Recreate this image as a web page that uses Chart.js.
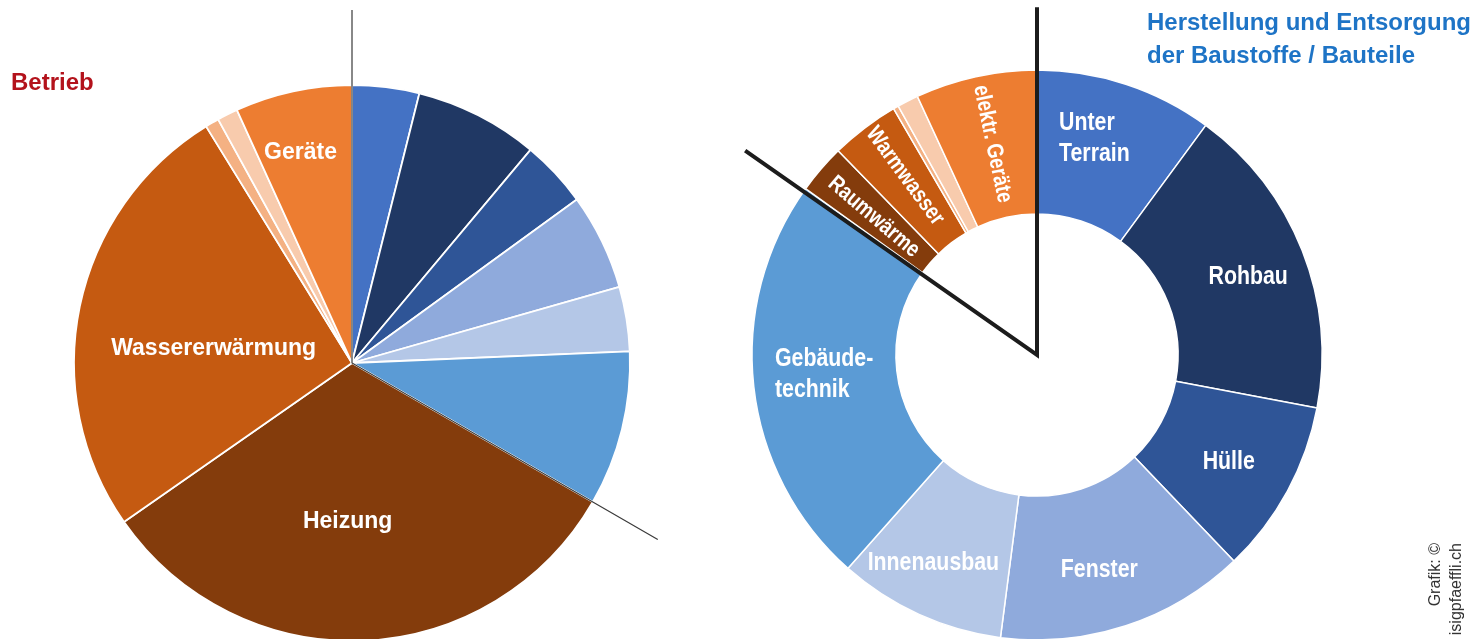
<!DOCTYPE html>
<html lang="de">
<head>
<meta charset="utf-8">
<title>Betrieb / Herstellung und Entsorgung</title>
<script src="https://cdn.jsdelivr.net/npm/chart.js@4.4.1/dist/chart.umd.min.js"></script>
<style>
  html, body { margin: 0; padding: 0; background: #fff; overflow: hidden; width: 1479px; height: 639px; }
  body { position: relative; font-family: "Liberation Sans", Arial, sans-serif; }
  canvas { position: absolute; top: 0; }
  #betriebChart { left: 0; }
  #bauChart { left: 740px; }
  .title { position: absolute; font-weight: bold; font-size: 24px; line-height: 33px; white-space: nowrap; }
  #titleBetrieb { left: 11px; top: 65px; color: #b3121b; }
  #titleBau { left: 1147px; top: 5px; color: #1e74c6; }
  #credit {
    position: absolute; left: 1424px; top: 643px; width: 100px;
    font-size: 16px; line-height: 21px; color: #333; text-align: right; white-space: nowrap;
    transform-origin: 0 0; transform: rotate(-90deg);
  }
</style>
</head>
<body>
<canvas id="betriebChart" width="740" height="700"></canvas>
<canvas id="bauChart" width="739" height="700"></canvas>
<div class="title" id="titleBetrieb">Betrieb</div>
<div class="title" id="titleBau">Herstellung und Entsorgung<br>der Baustoffe / Bauteile</div>
<div id="credit">Grafik: ©<br>isigpfaeffli.ch</div>

<script>
// Betrieb: Anteile in % (Erstellung + Betrieb)
const betriebLabels = ['Unter Terrain', 'Rohbau', 'Hülle', 'Fenster', 'Innenausbau', 'Gebäudetechnik',
                       'Heizung', 'Wassererwärmung', 'Lüftung', 'Beleuchtung', 'Geräte'];
const betriebValues = [3.9, 7.2, 3.9, 5.6, 3.75, 9.0, 32.0, 25.9, 0.8, 1.2, 6.8];

// Herstellung und Entsorgung: Anteile in %
const bauLabels = [['Unter', 'Terrain'], 'Rohbau', 'Hülle', 'Fenster', 'Innenausbau', ['Gebäude-', 'technik'],
                   'Raumwärme', 'Warmwasser', 'Lüftung', 'Beleuchtung', 'elektr. Geräte'];
const bauValues = [10.1, 17.9, 9.9, 14.2, 9.5, 23.4, 2.8, 3.9, 0.3, 1.2, 6.9];

const sliceColors = ['#4472c4', '#203864', '#2f5597', '#8faadc', '#b4c7e7', '#5b9bd5',
                     '#843c0c', '#c55a11', '#f4b183', '#f8cbad', '#ed7d31'];

// Beschriftung: r = Anteil vom Aussenradius, shift = Winkelversatz in Grad
const betriebTextPos = {
  6: { r: 0.57, shift: 4 },
  7: { r: 0.5, shift: -6 },
  10: { r: 0.78, shift: -1.5 }
};
const bauTextPos = {
  0: { r: 0.785, shift: -3.3, align: 'left' },
  1: { r: 0.79, shift: 1.2 },
  2: { r: 0.77, shift: 0.6 },
  3: { r: 0.785, shift: 2 },
  4: { r: 0.816, shift: 2 },
  5: { r: 0.75, shift: 1.1, align: 'left' },
  6: { r: 0.75, shift: -0.5, radial: true },
  7: { r: 0.78, shift: 0.8, radial: true },
  10: { r: 0.757, shift: 0.5, radial: true }
};

const FONT = '"Liberation Sans", Arial, sans-serif';
const DEG = Math.PI / 180;

function drawSliceText(chart, texts, pos, style) {
  const ctx = chart.ctx;
  const arcs = chart.getDatasetMeta(0).data;
  ctx.save();
  ctx.fillStyle = '#ffffff';
  ctx.textBaseline = 'middle';
  Object.keys(pos).forEach(k => {
    const i = +k, p = pos[k], arc = arcs[i];
    const mid = (arc.startAngle + arc.endAngle) / 2 + p.shift * DEG;
    const x = arc.x + Math.cos(mid) * arc.outerRadius * p.r;
    const y = arc.y + Math.sin(mid) * arc.outerRadius * p.r;
    const lines = [].concat(texts[i]);
    ctx.save();
    ctx.translate(x, y);
    if (p.radial) {
      ctx.rotate(mid + Math.PI);
      ctx.font = style.radialFont;
    } else {
      ctx.font = style.font;
    }
    ctx.scale(style.squeeze, 1);
    const maxW = Math.max(...lines.map(l => ctx.measureText(l).width));
    lines.forEach((l, j) => {
      const ly = (j - (lines.length - 1) / 2) * style.lineHeight;
      if (p.align === 'left') {
        ctx.textAlign = 'left';
        ctx.fillText(l, -maxW / 2, ly);
      } else {
        ctx.textAlign = 'center';
        ctx.fillText(l, 0, ly);
      }
    });
    ctx.restore();
  });
  ctx.restore();
}

// Trennlinien zwischen Erstellung und Betrieb, vom Zentrum nach aussen
function drawGuides(chart, guides, width) {
  const arcs = chart.getDatasetMeta(0).data;
  const c = arcs[0];
  const pts = guides.map(g => {
    const a = (g.end ? arcs[g.index].endAngle : arcs[g.index].startAngle) + (g.shift || 0) * DEG;
    const len = c.outerRadius * g.len;
    return [c.x + Math.cos(a) * len, c.y + Math.sin(a) * len];
  });
  const ctx = chart.ctx;
  ctx.save();
  ctx.strokeStyle = width > 2 ? '#1c1c1c' : '#3a3a3a';
  ctx.lineWidth = width;
  ctx.lineJoin = 'miter';
  ctx.beginPath();
  ctx.moveTo(pts[0][0], pts[0][1]);
  ctx.lineTo(c.x, c.y);
  ctx.lineTo(pts[1][0], pts[1][1]);
  ctx.stroke();
  ctx.restore();
}

function baseOptions(padding) {
  return {
    responsive: false,
    animation: false,
    devicePixelRatio: 1,
    events: [],
    layout: { padding: padding },
    plugins: { legend: { display: false }, tooltip: { enabled: false } }
  };
}

new Chart(document.getElementById('betriebChart'), {
  type: 'pie',
  data: {
    labels: betriebLabels,
    datasets: [{
      data: betriebValues,
      backgroundColor: sliceColors,
      borderColor: '#ffffff',
      borderWidth: 1.8
    }]
  },
  options: baseOptions({ left: 73.1, top: 84.1, right: 109.1, bottom: 58.1 }),
  plugins: [{
    id: 'betriebDeko',
    afterDatasetsDraw(chart) {
      drawGuides(chart, [
        { index: 0, len: 1.27 },
        { index: 5, end: true, len: 1.27 }
      ], 1.2);
      drawSliceText(chart, betriebLabels, betriebTextPos, {
        font: 'bold 23px ' + FONT, radialFont: 'bold 23px ' + FONT, squeeze: 1, lineHeight: 28
      });
    }
  }]
});

new Chart(document.getElementById('bauChart'), {
  type: 'doughnut',
  data: {
    labels: bauLabels,
    datasets: [{
      data: bauValues,
      backgroundColor: sliceColors,
      borderColor: '#ffffff',
      borderWidth: 1.5
    }]
  },
  options: Object.assign(baseOptions({ left: 11.25, top: 69.25, right: 156.25, bottom: 59.25 }), { cutout: '49.5%' }),
  plugins: [{
    id: 'bauDeko',
    afterDatasetsDraw(chart) {
      drawSliceText(chart, bauLabels, bauTextPos, {
        font: 'bold 26px ' + FONT, radialFont: 'bold 23px ' + FONT, squeeze: 0.82, lineHeight: 31
      });
      drawGuides(chart, [
        { index: 0, len: 1.22 },
        { index: 5, end: true, shift: -0.7, len: 1.25 }
      ], 4);
    }
  }]
});
</script>
</body>
</html>
